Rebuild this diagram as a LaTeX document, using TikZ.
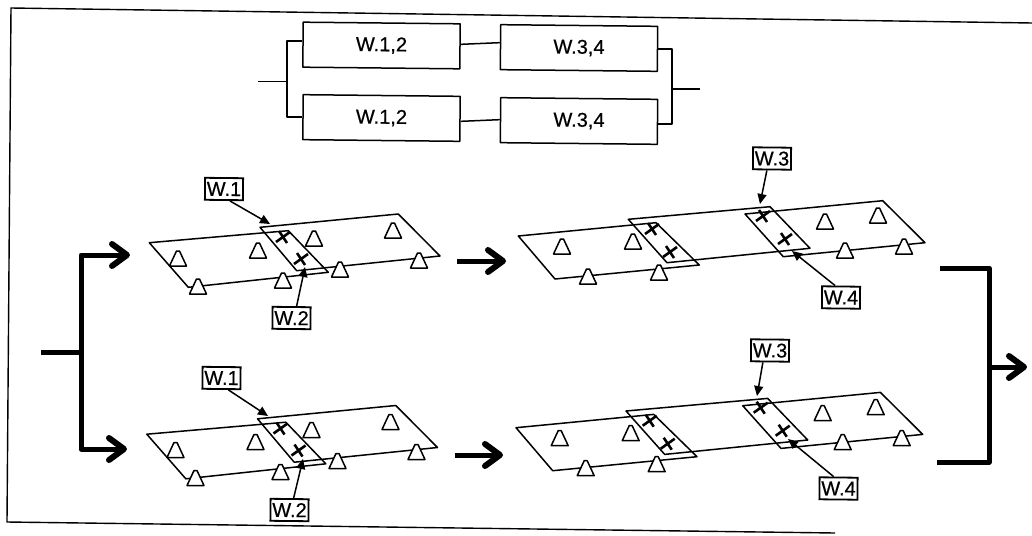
\documentclass[tikz,border=0pt]{standalone}
\usepackage{fontspec}
\setmainfont[FakeBold=0.5]{Liberation Sans}
\usetikzlibrary{arrows.meta}
\tikzset{
  thinline/.style={line width=1.5pt,line join=round},
  blockbox/.style={draw,thinline,fill=white,rotate=-0.6,minimum width=157pt,minimum height=45pt,inner sep=0pt,font=\fontsize{20}{22}\selectfont},
  tagbox/.style={draw,line width=1.8pt,fill=white,rotate=-0.6,minimum width=38pt,minimum height=22pt,inner sep=0pt,font=\fontsize{20}{22}\selectfont},
  slab/.style={thinline},
  tagarrow/.style={line width=1.5pt,-{Triangle[length=10pt,width=9pt]}},
  flow/.style={line width=5pt,line join=round},
  flowarrow/.style={flow,-{Straight Barb[length=15pt,width=22pt,line width=6pt,round]}},
  crossmark/.style={line width=2.6pt},
  tribase/.style={thinline,fill=white}
}
\newcommand{\tri}[2]{\draw[tribase] (#1-8.5,#2) -- (#1+8.5,#2) -- (#1+1.5,#2-15) -- (#1-1.5,#2-15) -- cycle;}
\newcommand{\crs}[2]{\draw[crossmark] (#1-7,#2+5) -- (#1+7,#2-5) (#1-4,#2-6) -- (#1+4,#2+6);}
\newcommand{\panelA}{%
  \draw[slab] (149.3,242.7) -- (188.3,287.3) -- (328.3,272.3) -- (288.3,230.7) -- cycle;
  \draw[slab] (260,227.3) -- (398.3,214) -- (440,256) -- (296.7,270.7) -- cycle;
  \tri{178}{266}\tri{258}{258}\tri{314}{246}\tri{393}{238}
  \tri{198}{294}\tri{283}{288}\tri{340}{277}\tri{419}{268}
  \crs{283}{237}\crs{301}{259}
}
\newcommand{\panelB}{%
  \draw[slab] (518.3,236) -- (555,279) -- (699.3,265) -- (656,222.7) -- cycle;
  \draw[slab] (628.3,219.3) -- (770,206.7) -- (810,248.3) -- (667,262.7) -- cycle;
  \draw[slab] (745,214) -- (882.7,200.7) -- (925,242.7) -- (783.3,256.7) -- cycle;
  \tri{562}{254}\tri{633}{249}\tri{825}{229}\tri{878}{223}
  \tri{588}{284}\tri{659}{280}\tri{845}{258}\tri{904}{254}
  \crs{652}{229}\crs{670}{252}\crs{763}{216}\crs{785}{239}
}
\begin{document}
\begin{tikzpicture}[x=1pt,y=-1pt]
\useasboundingbox (0,0) rectangle (1032,535);
% frame
\draw[line width=1.4pt] (1032,23) -- (11,8) -- (7,522) -- (835,533);
% block diagram
\node[blockbox] (b1) at (381.5,45.5) {W.1,2};
\node[blockbox] (b2) at (579,48) {W.3,4};
\node[blockbox] (b3) at (381.5,118) {W.1,2};
\node[blockbox] (b4) at (579,121) {W.3,4};
\coordinate (inL) at (258,81.5);
\coordinate (juL) at (287,81.5);
\coordinate (juR) at (672,89);
\coordinate (outR) at (700,89);
\draw[thinline] (inL) -- (juL);
\draw[thinline] (juR) -- (outR);
\draw[thinline] ([yshift=3.5pt]b1.west) -| (juL);
\draw[thinline] (b3.west) -| (juL);
\draw[thinline] ([yshift=2pt]b1.east) -- ([yshift=4.5pt]b2.west);
\draw[thinline] ([yshift=-2.5pt]b3.east) -- ([yshift=0.5pt]b4.west);
\draw[thinline] (b2.east) -| (juR);
\draw[thinline] ([yshift=-2pt]b4.east) -| (juR);
% plates
\panelA
\panelB
\begin{scope}[shift={(-2.5,191.5)}]\panelA\end{scope}
\begin{scope}[shift={(-2.3,191.7)}]\panelB\end{scope}
% tags and their leaders
\node[tagbox] (t1) at (224,189) {W.1};
\node[tagbox] (t2) at (291.5,318) {W.2};
\node[tagbox] (t3) at (772,158.5) {W.3};
\node[tagbox] (t4) at (841,297.5) {W.4};
\node[tagbox] (t5) at (221.5,378) {W.1};
\node[tagbox] (t6) at (289.5,510) {W.2};
\node[tagbox] (t7) at (770,350.5) {W.3};
\node[tagbox] (t8) at (838.5,488.5) {W.4};
\coordinate (p1) at (270,224);
\coordinate (p2) at (305,267);
\coordinate (p3) at (760,204);
\coordinate (p4) at (792,251);
\coordinate (p5) at (268,416);
\coordinate (p6) at (303,459);
\coordinate (p7) at (757,396);
\coordinate (p8) at (788,439);
\draw[tagarrow] ([xshift=6pt]t1.south) -- (p1);
\draw[tagarrow] ([xshift=5pt]t2.north) -- (p2);
\draw[tagarrow] ([xshift=-5pt]t3.south) -- (p3);
\draw[tagarrow] ([xshift=-6pt]t4.north) -- (p4);
\draw[tagarrow] ([xshift=7pt]t5.south) -- (p5);
\draw[tagarrow] ([xshift=4pt]t6.north) -- (p6);
\draw[tagarrow] ([xshift=-7pt]t7.south) -- (p7);
\draw[tagarrow] ([xshift=-5pt]t8.north) -- (p8);
% heavy flow arrows
\coordinate (fin) at (41,352);
\coordinate (fj) at (81,352);
\coordinate (ft1) at (130,255);
\coordinate (ft2) at (127,449);
\coordinate (m1a) at (457,261);
\coordinate (m1b) at (506,261);
\coordinate (m2a) at (455,455);
\coordinate (m2b) at (503,455);
\coordinate (r1) at (940,268);
\coordinate (r2) at (937,462);
\coordinate (rj) at (989,367);
\coordinate (rt) at (1027,367);
\draw[flow] (fin) -- (fj);
\draw[flowarrow] (fj) |- (ft1);
\draw[flowarrow] (fj) |- (ft2);
\draw[flowarrow] (m1a) -- (m1b);
\draw[flowarrow] (m2a) -- (m2b);
\draw[flow] (r1) -| (rj) |- (r2);
\draw[flowarrow] (rj) -- (rt);
\end{tikzpicture}
\end{document}
